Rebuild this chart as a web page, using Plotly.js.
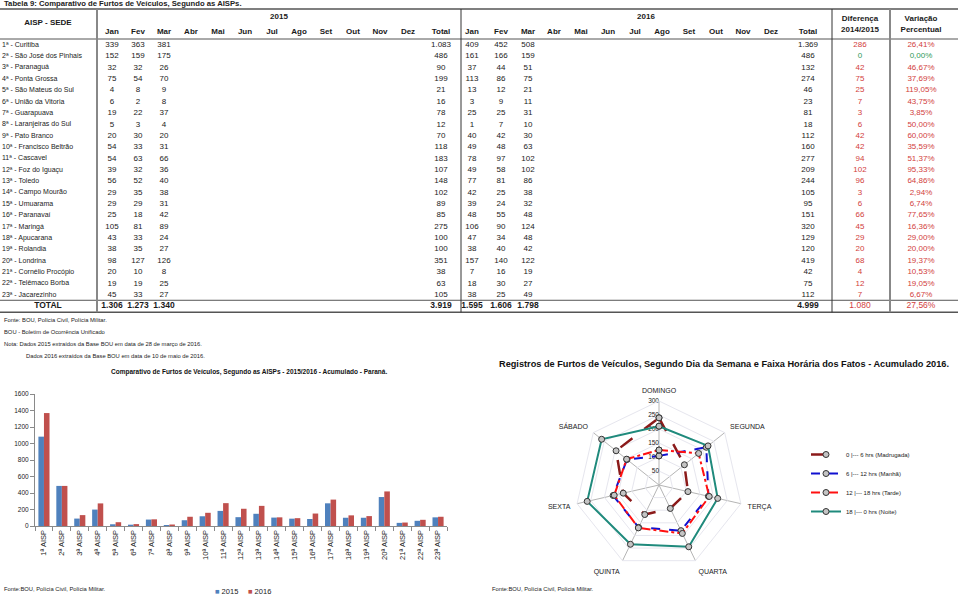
<!DOCTYPE html>
<html><head><meta charset="utf-8">
<script src="https://cdn.plot.ly/plotly-3.0.1.min.js"></script>
<style>body{margin:0;background:#fff}#chart{width:960px;height:595px}</style>
</head><body><div id="chart"></div>
<script>
// ---------------- DATA ----------------
const aisps = ["1ª - Curitiba","2ª - São José dos Pinhais","3ª - Paranaguá","4ª - Ponta Grossa","5ª - São Mateus do Sul","6ª - União da Vitoria","7ª - Guarapuava","8ª - Laranjeiras do Sul","9ª - Pato Branco","10ª - Francisco Beltrão","11ª - Cascavel","12ª - Foz do Iguaçu","13ª - Toledo","14ª - Campo Mourão","15ª - Umuarama","16ª - Paranavaí","17ª - Maringá","18ª - Apucarana","19ª - Rolandia","20ª - Londrina","21ª - Cornélio Procópio","22ª - Telêmaco Borba","23ª - Jacarezinho"];
const months = ["Jan","Fev","Mar","Abr","Mai","Jun","Jul","Ago","Set","Out","Nov","Dez"];
const jan2015 = [339,152,32,75,4,6,19,5,20,54,54,39,56,29,29,25,105,43,38,98,20,19,45];
const fev2015 = [363,159,32,54,8,2,22,3,30,33,63,32,52,35,29,18,81,33,35,127,10,19,33];
const mar2015 = [381,175,26,70,9,8,37,4,20,31,66,36,40,38,31,42,89,24,27,126,8,25,27];
const total2015 = [1083,486,90,199,21,16,78,12,70,118,183,107,148,102,89,85,275,100,100,351,38,63,105];
const jan2016 = [409,161,37,113,13,3,25,1,40,49,78,49,77,42,39,48,106,47,38,157,7,18,38];
const fev2016 = [452,166,44,86,12,9,25,7,42,48,97,58,81,25,24,55,90,34,40,140,16,30,25];
const mar2016 = [508,159,51,75,21,11,31,10,30,63,102,102,86,38,32,48,124,48,42,122,19,27,49];
const total2016 = [1369,486,132,274,46,23,81,18,112,160,277,209,244,105,95,151,320,129,120,419,42,75,112];
const diferenca = [286,0,42,75,25,7,3,6,42,42,94,102,96,3,6,66,45,29,20,68,4,12,7];
const variacao = [26.41,0.00,46.67,37.69,119.05,43.75,3.85,50.00,60.00,35.59,51.37,95.33,64.86,2.94,6.74,77.65,16.36,29.00,20.00,19.37,10.53,19.05,6.67];
const totalRow2015 = [1306,1273,1340,3919];
const totalRow2016 = [1595,1606,1798,4999];
const totalDiferenca = 1080;
const totalVariacao = 27.56;

const barCats = ["1ª AISP","2ª AISP","3ª AISP","4ª AISP","5ª AISP","6ª AISP","7ª AISP","8ª AISP","9ª AISP","10ª AISP","11ª AISP","12ª AISP","13ª AISP","14ª AISP","15ª AISP","16ª AISP","17ª AISP","18ª AISP","19ª AISP","20ª AISP","21ª AISP","22ª AISP","23ª AISP"];
const barSeriesNames = ["2015", "2016"];

const days = ["DOMINGO","SEGUNDA","TERÇA","QUARTA","QUINTA","SEXTA","SÁBADO"];
const radialTicks = [0,50,100,150,200,250,300];
const madrugada = [240,116,106,93,117,131,196];
const manha = [104,216,181,181,168,168,146];
const tarde = [125,181,184,192,170,164,148];
const noite = [210,224,215,245,235,263,262];

// ---------------- HELPERS ----------------
const W = 960, H = 595;
const fx = x => x / W, fy = y => 1 - y / H;
const fmt = n => String(n).replace(/\B(?=(\d{3})+(?!\d))/g, ".");
const pct = v => v.toFixed(2).replace(".", ",") + "%";
const ARIAL = "Liberation Sans, Arial, sans-serif";
const NARROW = "Liberation Sans Narrow, Arial Narrow, Liberation Sans, sans-serif";
const BLUE = "#4F81BD", RED = "#C0504D";

// table geometry (layout only)
const rowY0 = 45, rowStep = 11.36;
const rowsY = aisps.map((_, i) => rowY0 + i * rowStep);
const totalY = rowY0 + 23 * rowStep;
const xMonths2015 = [112,138,164,191,218,245,272,299,326,353,380,408];
const xTotal2015 = 441;
const xMonths2016 = [472,501,528,554,581,608,635,662,689,716,743,771];
const xTotal2016 = 808;
const xDif = 860, xVar = 921;

const traces = [];
const tableText = (xs, ys, texts, opts = {}) => {
  traces.push({
    type: "scatter", mode: "text", xaxis: "x3", yaxis: "y3",
    x: xs, y: ys, text: texts, textposition: opts.pos || "middle center",
    textfont: { family: opts.family || ARIAL, size: opts.size || 7, color: opts.color || "#1a1a1a" },
    hoverinfo: "skip", showlegend: false, cliponaxis: false
  });
};
const rep = (v, n) => Array(n).fill(v);

// header
tableText([48], [23], ["<b>AISP - SEDE</b>"], { family: NARROW, size: 8 });
tableText([279, 646], [17, 17], ["<b>2015</b>", "<b>2016</b>"], { family: NARROW, size: 8 });
tableText(xMonths2015.concat([xTotal2015]), rep(32, 13), months.concat(["Total"]).map(m => "<b>" + m + "</b>"), { family: NARROW, size: 8 });
tableText(xMonths2016.concat([xTotal2016]), rep(32, 13), months.concat(["Total"]).map(m => "<b>" + m + "</b>"), { family: NARROW, size: 8 });
tableText([xDif, xDif, xVar, xVar], [19, 30, 19, 30], ["<b>Diferença</b>", "<b>2014/2015</b>", "<b>Variação</b>", "<b>Percentual</b>"], { family: NARROW, size: 8 });

// body
tableText(rep(2, 23), rowsY, aisps, { pos: "middle right", size: 7, color: "#222" });
tableText([48], [totalY], ["<b>TOTAL</b>"], { family: NARROW, size: 8.5 });
[[jan2015, 0], [fev2015, 1], [mar2015, 2]].forEach(([arr, k]) =>
  tableText(rep(xMonths2015[k], 23), rowsY, arr.map(fmt), { family: NARROW, size: 8 }));
tableText(rep(xTotal2015, 23), rowsY, total2015.map(fmt), { family: NARROW, size: 8 });
[[jan2016, 0], [fev2016, 1], [mar2016, 2]].forEach(([arr, k]) =>
  tableText(rep(xMonths2016[k], 23), rowsY, arr.map(fmt), { family: NARROW, size: 8 }));
tableText(rep(xTotal2016, 23), rowsY, total2016.map(fmt), { family: NARROW, size: 8 });
const red = "#d2403c", green = "#2f9a5a";
traces.push({
  type: "scatter", mode: "text", xaxis: "x3", yaxis: "y3",
  x: rep(xDif, 23).concat(rep(xVar, 23)), y: rowsY.concat(rowsY),
  text: diferenca.map(fmt).concat(variacao.map(pct)),
  textfont: { family: NARROW, size: 8, color: diferenca.map(d => d === 0 ? green : red).concat(diferenca.map(d => d === 0 ? green : red)) },
  hoverinfo: "skip", showlegend: false, cliponaxis: false
});
// total row
tableText(xMonths2015.slice(0, 3).concat([xTotal2015]), rep(totalY, 4), totalRow2015.map(v => "<b>" + fmt(v) + "</b>"), { family: NARROW, size: 8.5 });
tableText(xMonths2016.slice(0, 3).concat([xTotal2016]), rep(totalY, 4), totalRow2016.map(v => "<b>" + fmt(v) + "</b>"), { family: NARROW, size: 8.5 });
tableText([xDif, xVar], [totalY, totalY], [fmt(totalDiferenca), pct(totalVariacao)], { family: NARROW, size: 8.5, color: red });

// ---------------- BARS ----------------
traces.push({ type: "bar", x: barCats, y: total2015, name: barSeriesNames[0], marker: { color: BLUE }, xaxis: "x", yaxis: "y", showlegend: false, hoverinfo: "x+y" });
traces.push({ type: "bar", x: barCats, y: total2016, name: barSeriesNames[1], marker: { color: RED }, xaxis: "x", yaxis: "y", showlegend: false, hoverinfo: "x+y" });

// ---------------- RADAR ----------------
const close = a => a.concat([a[0]]);
// radial tick labels placed left of the DOMINGO spoke
traces.push({
  type: "scatterpolar", subplot: "polar", mode: "text",
  r: radialTicks, theta: rep(days[0], radialTicks.length), text: radialTicks.map(String),
  textposition: "middle left", textfont: { family: ARIAL, size: 6.5, color: "#222" },
  showlegend: false, hoverinfo: "skip", cliponaxis: false
});
const radarSeries = [
  { name: "0 |--- 6 hrs (Madrugada)", r: madrugada, color: "#8b1a1a", dash: "longdash", width: 2.5 },
  { name: "6 |--- 12 hrs (Manhã)", r: manha, color: "#1010d0", dash: "dash", width: 2 },
  { name: "12 |--- 18 hrs (Tarde)", r: tarde, color: "#ff1010", dash: "dashdot", width: 2 },
  { name: "18 |--- 0 hrs (Noite)", r: noite, color: "#1f8a7c", dash: "solid", width: 2 }
];
radarSeries.forEach((s, i) => traces.push({
  type: "scatterpolar", subplot: "polar", mode: "lines+markers",
  r: close(s.r), theta: close(days), name: s.name, legend: "legend2",
  line: { color: s.color, dash: s.dash, width: s.width },
  marker: { symbol: "circle", size: 6, color: "#c4c4c4", line: { color: "#333", width: 1 } },
  hoverinfo: "r+theta+name"
}));

// ---------------- LAYOUT ----------------
const line = (x0, y0, x1, y1, color, width) => ({ type: "line", xref: "x3", yref: "y3", x0, y0, x1, y1, line: { color, width } });
const shapes = [
  line(0, 9, 958, 9, "#555", 1.5),
  line(0, 39, 958, 39, "#555", 1),
  line(0, totalY - 6, 958, totalY - 6, "#555", 1),
  line(0, totalY + 6, 958, totalY + 6, "#555", 1.5),
  line(97, 9, 97, totalY + 6, "#888", 2),
  line(461, 9, 461, totalY + 6, "#333", 1),
  line(832, 9, 832, totalY + 6, "#333", 1),
  line(890, 9, 890, totalY + 6, "#888", 2)
];

const ann = (x, y, text, size, opts = {}) => ({
  xref: "paper", yref: "paper", x: fx(x), y: fy(y), text, showarrow: false,
  xanchor: opts.xanchor || "left", yanchor: "middle",
  font: { family: opts.family || ARIAL, size, color: opts.color || "#222" }
});
const annotations = [
  ann(2, 4, "<b>Tabela 9: Comparativo de Furtos de Veículos, Segundo as AISPs.</b>", 7.7, { family: NARROW }),
  ann(2, 320, "Fonte: BOU, Polícia Civil, Polícia Militar.", 5.8),
  ann(2, 332, "BOU - Boletim de Ocorrência Unificado", 5.8),
  ann(2, 344, "Nota: Dados 2015 extraídos da Base BOU em data de 28 de março de 2016.", 5.8),
  ann(24, 356, "Dados 2016 extraídos da Base BOU em data de 10 de maio de 2016.", 5.8),
  ann(249, 372, "<b>Comparativo de Furtos de Veículos, Segundo as AISPs - 2015/2016 - Acumulado - Paraná.</b>", 6.5, { family: NARROW, xanchor: "center", color: "#111" }),
  ann(724, 364, "<b>Registros de Furtos de Veículos, Segundo Dia da Semana e Faixa Horária dos Fatos - Acumulado 2016.</b>", 9.2, { family: NARROW, xanchor: "center", color: "#111" }),
  ann(2, 589, "Fonte:BOU, Polícia Civil, Polícia Militar.", 5.8),
  ann(490, 589, "Fonte:BOU, Polícia Civil, Polícia Militar.", 5.8),
  // bar chart legend
  ann(213, 591, "<span style='color:" + BLUE + "'>■</span> " + barSeriesNames[0], 7.5),
  ann(246, 591, "<span style='color:" + RED + "'>■</span> " + barSeriesNames[1], 7.5)
];

const layout = {
  width: W, height: H, margin: { l: 0, r: 0, t: 0, b: 0, autoexpand: false },
  paper_bgcolor: "#fff", plot_bgcolor: "rgba(0,0,0,0)",
  font: { family: ARIAL, color: "#222" },
  barmode: "group", bargap: 0.38, bargroupgap: 0,
  xaxis: {
    domain: [fx(35), fx(447)], anchor: "y", type: "category",
    showline: true, linecolor: "#8a8a8a", linewidth: 1,
    ticks: "outside", tickson: "boundaries", ticklen: 4, tickcolor: "#8a8a8a",
    tickangle: -90, tickfont: { family: ARIAL, size: 7.5, color: "#222" }, fixedrange: true
  },
  yaxis: {
    domain: [fy(526), fy(394)], anchor: "x", range: [0, 1600], dtick: 200,
    showline: true, linecolor: "#8a8a8a", ticks: "outside", ticklen: 4, tickcolor: "#8a8a8a",
    showgrid: false, zeroline: false, tickfont: { family: ARIAL, size: 6.5, color: "#222" }, fixedrange: true
  },
  xaxis3: { domain: [0, 1], range: [0, W], anchor: "y3", visible: false, fixedrange: true },
  yaxis3: { domain: [0, 1], range: [H, 0], anchor: "x3", visible: false, fixedrange: true },
  polar: {
    domain: { x: [fx(575), fx(743)], y: [fy(569), fy(401)] },
    bgcolor: "rgba(0,0,0,0)", gridshape: "linear",
    angularaxis: {
      type: "category", categoryorder: "array", categoryarray: days,
      rotation: 90, direction: "clockwise",
      tickfont: { family: ARIAL, size: 7, color: "#222" },
      gridcolor: "#b5b5b5", gridwidth: 1, showline: true, linecolor: "#e6e6ee",
      ticks: "outside", ticklen: 5, tickcolor: "rgba(0,0,0,0)"
    },
    radialaxis: {
      range: [0, 300], dtick: 50, angle: 90, showticklabels: false,
      showline: false, gridcolor: "#e6e6ee", ticks: ""
    }
  },
  legend2: {
    orientation: "v", x: fx(806), y: fy(440), xanchor: "left", yanchor: "top",
    font: { family: ARIAL, size: 6, color: "#222" }, tracegroupgap: 0, bgcolor: "rgba(0,0,0,0)"
  },
  shapes, annotations, showlegend: true
};

Plotly.newPlot("chart", traces, layout, { displayModeBar: false, staticPlot: true });
</script>
</body></html>
